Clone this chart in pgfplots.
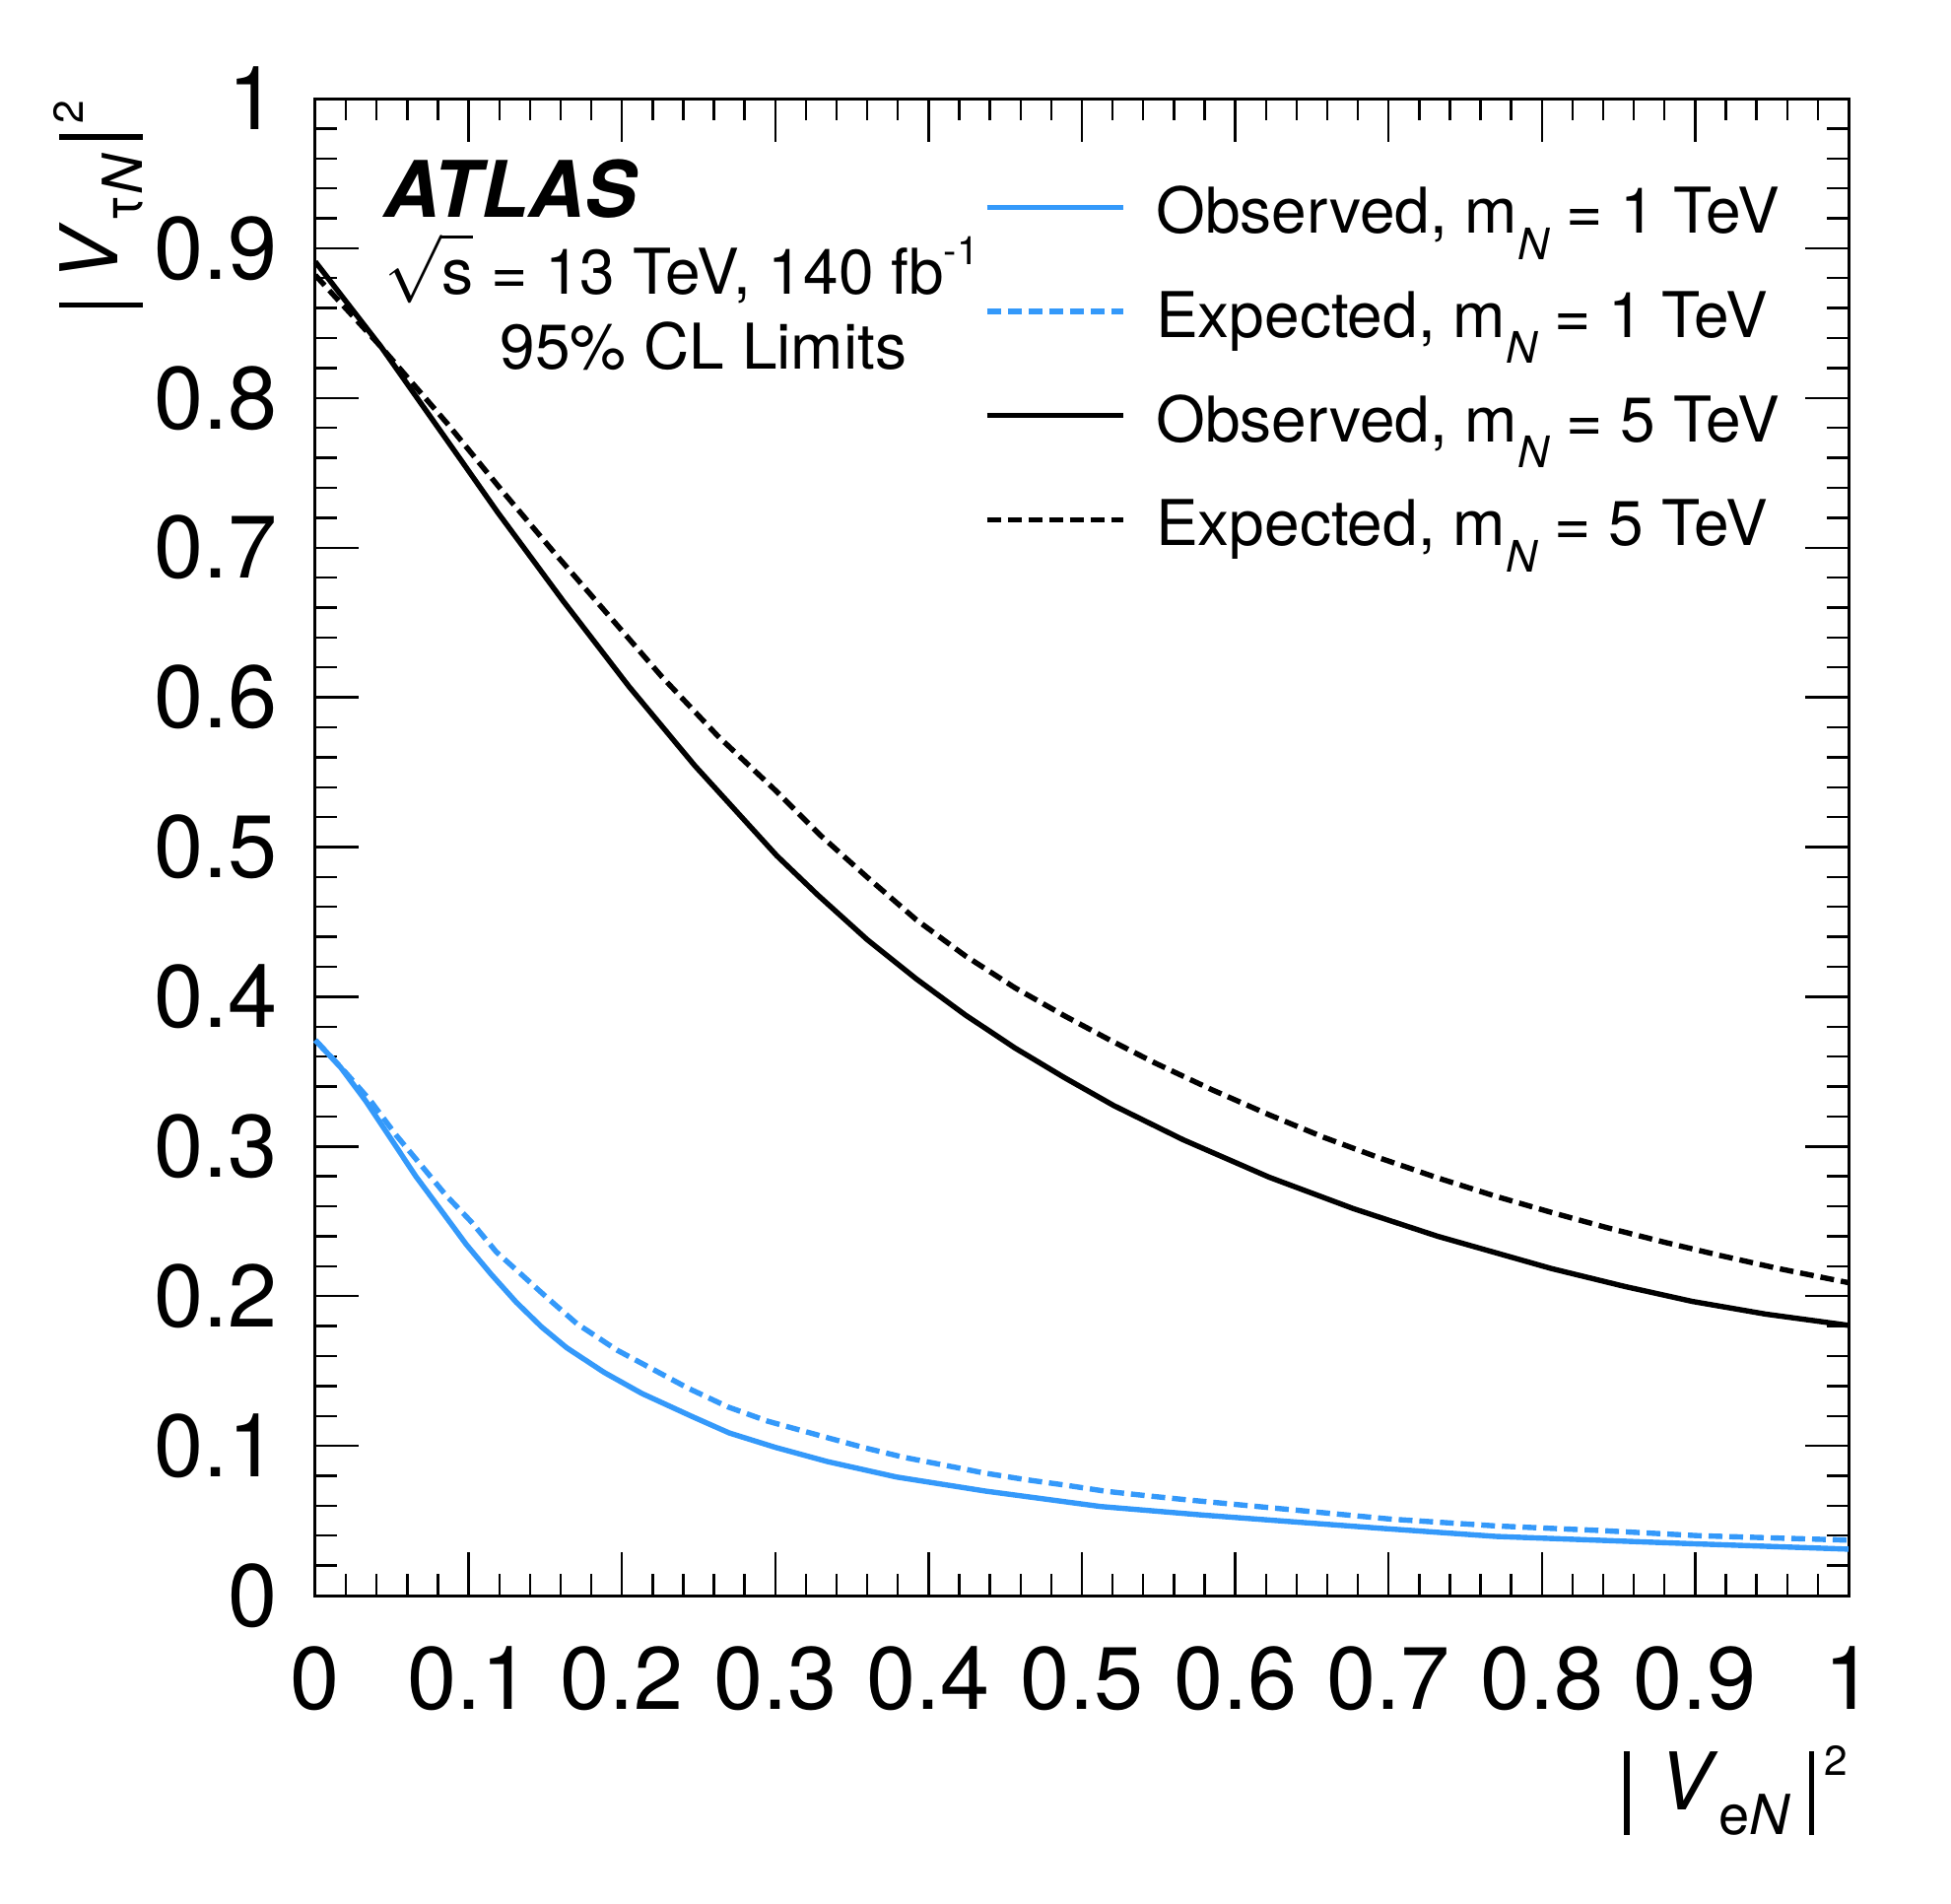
\documentclass[border=0pt]{standalone}
\usepackage{pgfplots}
\pgfplotsset{compat=1.18}
\usepackage{fontspec}
\setmainfont{TeX Gyre Heros}
\definecolor{rootblue}{RGB}{52,153,250}
\newcommand{\vbar}{\rule[-6.25pt]{1.4pt}{21.25pt}}
\newcommand{\mN}{m\raisebox{-6.6pt}{\fontsize{11}{11}\selectfont\itshape N}}
\begin{document}
\begin{tikzpicture}
\useasboundingbox (-80pt,-78pt) rectangle (415pt,404.75pt);
\begin{axis}[
  at={(0pt,0pt)}, anchor=south west,
  scale only axis, width=389pt, height=379.75pt,
  xmin=0, xmax=1, ymin=0, ymax=1,
  clip=false,
  xtick={0,0.1,0.2,0.3,0.4,0.5,0.6,0.7,0.8,0.9,1},
  ytick={0,0.1,0.2,0.3,0.4,0.5,0.6,0.7,0.8,0.9,1},
  minor tick num=4,
  major tick length=11pt, minor tick length=5.5pt,
  axis line style={line width=0.75pt},
  every tick/.style={black, line width=0.6pt},
  tick label style={font=\fontsize{22.5}{27}\selectfont},
  /pgf/number format/assume math mode=true,
  xticklabel style={anchor=north, inner sep=0pt, yshift=-12.75pt},
  yticklabel style={anchor=east, inner sep=0pt, xshift=-9.5pt},
  every axis x label/.style={at={(axis description cs:1,-0.1433)}, anchor=base east, inner sep=0pt},
  every axis y label/.style={at={(axis description cs:-0.1288,0.999)}, rotate=90, anchor=base east, inner sep=0pt},
  xlabel={\fontsize{20.2}{24}\selectfont\vbar\hspace{7.5pt}\textit{V}\raisebox{-6.25pt}{\fontsize{14}{14}\selectfont e\textit{N}}\hspace{4.5pt}\vbar\hspace{2.6pt}\raisebox{8.75pt}{\fontsize{10.6}{11}\selectfont 2}},
  ylabel={\fontsize{20.2}{24}\selectfont\vbar\hspace{5pt}\textit{V}\raisebox{-6.25pt}{\fontsize{14}{14}\selectfont τ\textit{N}}\hspace{3.5pt}\vbar\hspace{2.6pt}\raisebox{8.75pt}{\fontsize{10.6}{11}\selectfont 2}},
  legend style={at={(0.4364,0.9488)}, anchor=north west, draw=none, fill=none,
    inner sep=0pt, outer sep=0pt, row sep=10pt, column sep=7.6pt,
    font=\fontsize{16}{19}\selectfont,
    nodes={inner sep=0pt, text height=14.8pt, text depth=1.6pt}},
  legend cell align=left,
  legend image code/.code={\draw[#1] (0pt,0pt) -- (34.6pt,0pt);},
]
\addplot[rootblue, line width=1.35pt] coordinates {
(0,0.371) (0.0164,0.353) (0.0328,0.3305) (0.0492,0.3053) (0.0656,0.280) (0.082,0.2574) (0.0984,0.2346) (0.1148,0.2145) (0.131,0.196) (0.1475,0.1795) (0.164,0.1655) (0.1885,0.149) (0.213,0.135) (0.246,0.1195) (0.27,0.1086) (0.30,0.099) (0.334,0.0895) (0.379,0.0792) (0.437,0.0698) (0.512,0.0595) (0.5786,0.0538) (0.636,0.0494) (0.694,0.045) (0.770,0.0395) (0.896,0.0347) (1,0.031)};
\addlegendentry{Observed, \mN{} = 1 TeV}
\addplot[rootblue, line width=1.35pt, dash pattern=on 3.5pt off 1.75pt] coordinates {
(0,0.371) (0.0197,0.3495) (0.036,0.3305) (0.0525,0.3078) (0.0689,0.2876) (0.0852,0.2674) (0.1016,0.2498) (0.118,0.2296) (0.1344,0.2145) (0.1508,0.1993) (0.1705,0.1817) (0.1967,0.164) (0.2197,0.1514) (0.2426,0.1388) (0.2689,0.1261) (0.295,0.1165) (0.3321,0.106) (0.3579,0.0988) (0.3836,0.0924) (0.4103,0.0871) (0.4361,0.0819) (0.4628,0.0775) (0.4896,0.0737) (0.5153,0.0697) (0.5421,0.0667) (0.5689,0.0639) (0.635,0.0575) (0.701,0.0511) (0.770,0.0465) (0.837,0.0435) (0.902,0.0400) (1,0.0370)};
\addlegendentry{Expected, \mN{} = 1 TeV}
\addplot[black, line width=1.35pt] coordinates {
(0,0.891) (0.043,0.834) (0.095,0.7585) (0.119,0.7235) (0.1617,0.6643) (0.2046,0.6072) (0.2474,0.5545) (0.301,0.4942) (0.3278,0.4679) (0.3599,0.4382) (0.392,0.4119) (0.424,0.3878) (0.4563,0.3658) (0.4884,0.3461) (0.5206,0.3274) (0.566,0.3045) (0.622,0.2795) (0.677,0.2585) (0.732,0.2400) (0.806,0.2185) (0.854,0.2065) (0.898,0.1965) (0.946,0.1880) (1,0.1805)};
\addlegendentry{Observed, \mN{} = 5 TeV}
\addplot[black, line width=1.35pt, dash pattern=on 3.5pt off 1.75pt] coordinates {
(0,0.882) (0.043,0.834) (0.086,0.783) (0.121,0.739) (0.1564,0.696) (0.1907,0.6555) (0.226,0.6138) (0.2624,0.5743) (0.301,0.537) (0.3299,0.5074) (0.3599,0.4799) (0.392,0.4514) (0.424,0.4273) (0.4563,0.406) (0.4884,0.3874) (0.5184,0.371) (0.548,0.3556) (0.585,0.3378) (0.622,0.3212) (0.658,0.306) (0.695,0.292) (0.732,0.279) (0.769,0.267) (0.806,0.256) (0.843,0.2456) (0.880,0.236) (0.917,0.227) (0.954,0.2185) (1,0.209)};
\addlegendentry{Expected, \mN{} = 5 TeV}
\node[anchor=base west, inner sep=0pt] at (rel axis cs:0.0443,0.9204) {\fontsize{19.8}{24}\selectfont\bfseries\itshape ATLAS};
\node[anchor=base west, inner sep=0pt] at (rel axis cs:0.045,0.869) {\fontsize{16}{19}\selectfont $\sqrt{\mbox{s}\vphantom{\mbox{T}}}$ = 13 TeV, 140 fb\raisebox{7.7pt}{\fontsize{10}{10}\selectfont -1}};
\node[anchor=base west, inner sep=0pt] at (rel axis cs:0.1202,0.819) {\fontsize{16}{19}\selectfont 95\% CL Limits};
\end{axis}
\end{tikzpicture}
\end{document}
